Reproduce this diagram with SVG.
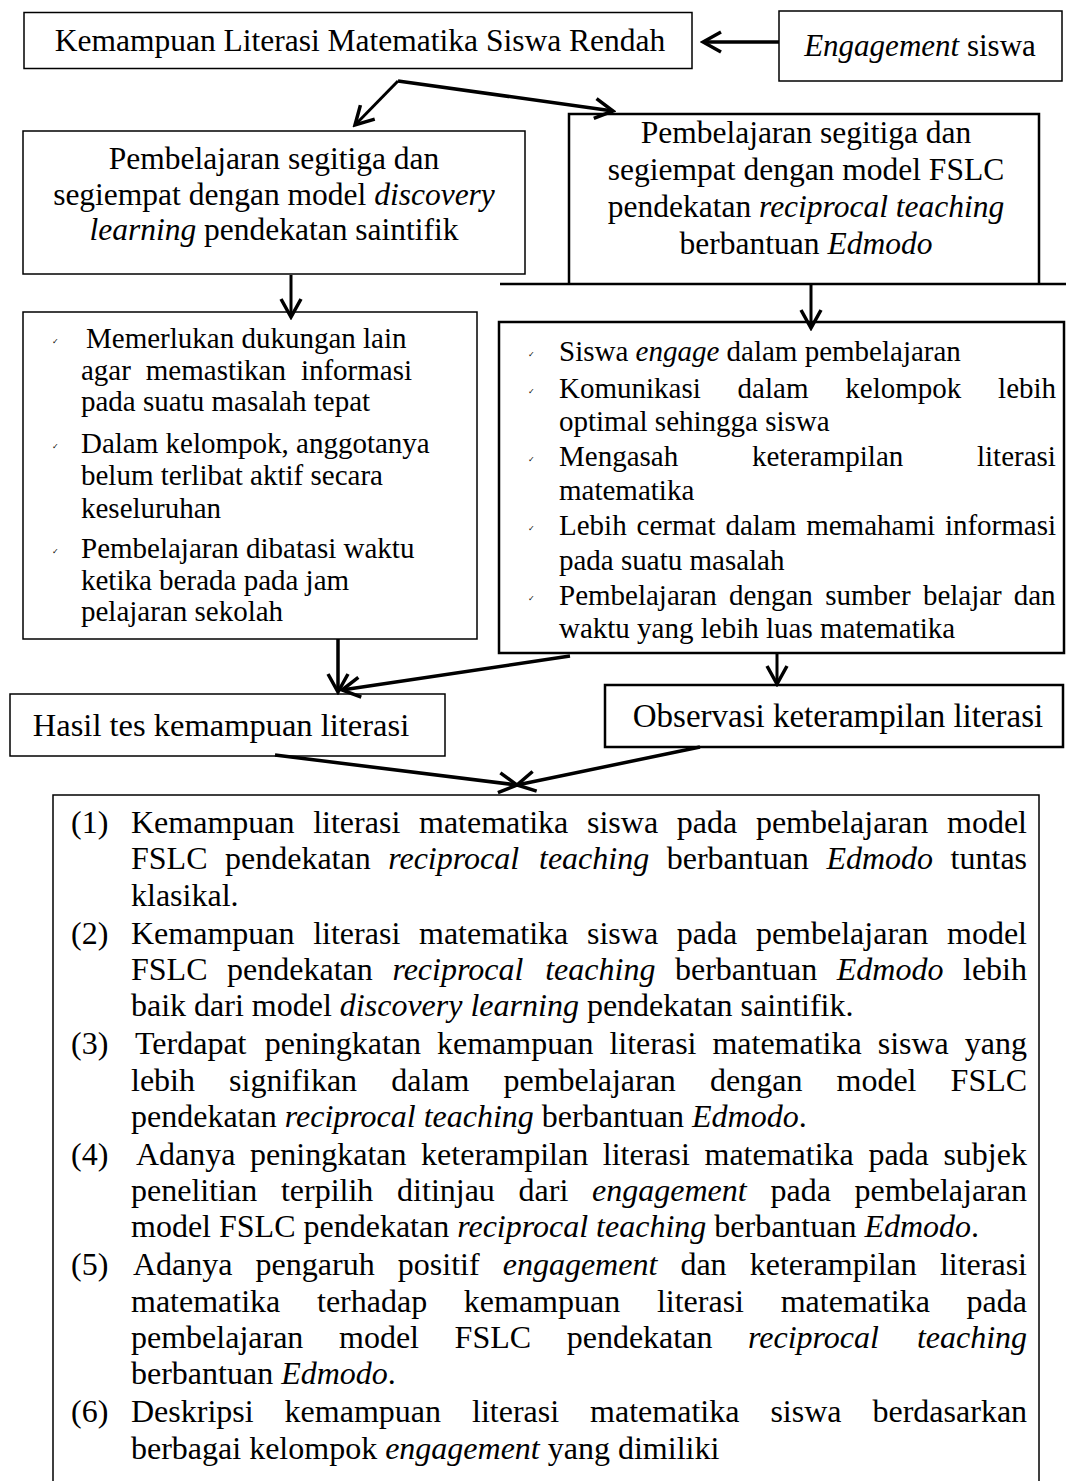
<svg xmlns="http://www.w3.org/2000/svg" width="1066" height="1481" viewBox="0 0 1066 1481">
<style>
text{font-family:"Liberation Serif","Times New Roman",serif;fill:#000}
.i{font-style:italic}
.b{fill:none;stroke:#000;stroke-width:1.5}
.bt{fill:none;stroke:#000;stroke-width:2.5}
.c{text-anchor:middle}
.f32{font-size:31.5px}
.f29{font-size:29px}
.f32b{font-size:32px}
.ck{font-family:"DejaVu Sans",sans-serif;font-size:8px}
.ln{fill:none;stroke:#000;stroke-width:3.5;marker-end:url(#ah)}
.ln3{fill:none;stroke:#000;stroke-width:3;marker-end:url(#ah)}
</style>
<defs>
<marker id="ah" viewBox="0 0 24 24" refX="21" refY="12" markerWidth="24" markerHeight="24" markerUnits="userSpaceOnUse" orient="auto">
<path d="M3,2 L21,12 L3,22" fill="none" stroke="#000" stroke-width="3.5"/>
</marker>
</defs>
<rect width="1066" height="1481" fill="#fff"/>

<g id="connectors">
<line class="ln" x1="779" y1="42" x2="703" y2="42"/>
<line class="ln3" x1="398" y1="81" x2="355" y2="125"/>
<line class="ln" x1="398" y1="81" x2="613" y2="111"/>
<line class="ln3" x1="291" y1="275" x2="291" y2="317"/>
<line class="ln3" x1="811" y1="284" x2="811" y2="328"/>
<line class="ln" x1="338" y1="639" x2="338" y2="692"/>
<line class="ln" x1="570" y1="656" x2="342" y2="690"/>
<line class="ln3" x1="777" y1="653" x2="777" y2="684"/>
<line class="ln" x1="275" y1="755" x2="517" y2="785"/>
<line class="ln" x1="700" y1="747" x2="517" y2="785"/>
</g>

<g id="node-rendah">
<rect class="b" x="24" y="12.5" width="668" height="56"/>
<text class="c f32" x="360" y="51">Kemampuan Literasi Matematika Siswa Rendah</text>
</g>

<g id="node-engagement">
<rect class="b" x="779" y="11" width="283" height="70"/>
<text class="c" style="font-size:31px" x="920" y="56"><tspan class="i">Engagement</tspan> siswa</text>
</g>

<g id="node-discovery">
<rect class="b" x="23" y="131" width="502" height="143"/>
<text class="c f32" x="274" y="169">Pembelajaran segitiga dan</text>
<text class="c f32" x="274" y="204.5">segiempat dengan model <tspan class="i">discovery</tspan></text>
<text class="c f32" x="274" y="240"><tspan class="i">learning</tspan> pendekatan saintifik</text>
</g>

<g id="node-fslc">
<path class="bt" d="M569,284 V114 H1039 V284"/>
<line class="bt" x1="500" y1="284" x2="1066" y2="284"/>
<text class="c f32" x="806" y="143">Pembelajaran segitiga dan</text>
<text class="c f32" x="806" y="180">segiempat dengan model FSLC</text>
<text class="c f32" x="806" y="217">pendekatan <tspan class="i">reciprocal teaching</tspan></text>
<text class="c f32" x="806" y="254">berbantuan <tspan class="i">Edmodo</tspan></text>
</g>

<g id="node-kelemahan">
<rect class="b" x="23" y="312" width="454" height="327"/>
<text class="ck" x="52" y="344">✓</text>
<text class="ck" x="52" y="449">✓</text>
<text class="ck" x="52" y="554">✓</text>
<text class="f29" x="86" y="348">Memerlukan dukungan lain</text>
<text class="f29" y="380"><tspan x="81">agar</tspan> <tspan x="145.8">memastikan</tspan> <tspan x="300.9">informasi</tspan></text>
<text class="f29" x="81" y="411">pada suatu masalah tepat</text>
<text class="f29" x="81" y="453">Dalam kelompok, anggotanya</text>
<text class="f29" x="81" y="485">belum terlibat aktif secara</text>
<text class="f29" x="81" y="518">keseluruhan</text>
<text class="f29" x="81" y="558">Pembelajaran dibatasi waktu</text>
<text class="f29" x="81" y="590">ketika berada pada jam</text>
<text class="f29" x="81" y="621">pelajaran sekolah</text>
</g>

<g id="node-kelebihan">
<rect class="bt" x="499" y="322" width="565" height="331"/>
<text class="ck" x="528" y="357">✓</text>
<text class="ck" x="528" y="394">✓</text>
<text class="ck" x="528" y="462">✓</text>
<text class="ck" x="528" y="531">✓</text>
<text class="ck" x="528" y="601">✓</text>
<text class="f29" x="559" y="361">Siswa <tspan class="i">engage</tspan> dalam pembelajaran</text>
<text class="f29" y="398"><tspan x="559">Komunikasi</tspan> <tspan x="737.6">dalam</tspan> <tspan x="845.3">kelompok</tspan> <tspan x="998.1">lebih</tspan></text>
<text class="f29" x="559" y="431">optimal sehingga siswa</text>
<text class="f29" y="466"><tspan x="559">Mengasah</tspan> <tspan x="751.9">keterampilan</tspan> <tspan x="977">literasi</tspan></text>
<text class="f29" x="559" y="500">matematika</text>
<text class="f29" y="535"><tspan x="559">Lebih</tspan> <tspan x="636.6">cermat</tspan> <tspan x="725.4">dalam</tspan> <tspan x="806.2">memahami</tspan> <tspan x="944.9">informasi</tspan></text>
<text class="f29" x="559" y="570">pada suatu masalah</text>
<text class="f29" y="605"><tspan x="559">Pembelajaran</tspan> <tspan x="729.1">dengan</tspan> <tspan x="825.2">sumber</tspan> <tspan x="922.9">belajar</tspan> <tspan x="1013.7">dan</tspan></text>
<text class="f29" x="559" y="638">waktu yang lebih luas matematika</text>
</g>

<g id="node-hasil">
<rect class="b" x="10" y="694" width="435" height="62"/>
<text class="c" style="font-size:32.5px" x="221" y="736">Hasil tes kemampuan literasi</text>
</g>

<g id="node-observasi">
<rect class="bt" x="605" y="685" width="458" height="62"/>
<text class="c" style="font-size:33px" x="838" y="727">Observasi keterampilan literasi</text>
</g>

<g id="node-hipotesis">
<rect class="b" x="53" y="795" width="986" height="720"/>
<text class="f32b" x="71" y="833">(1)</text>
<text class="f32b" y="833"><tspan x="131">Kemampuan</tspan> <tspan x="313.2">literasi</tspan> <tspan x="419">matematika</tspan> <tspan x="587">siswa</tspan> <tspan x="676.8">pada</tspan> <tspan x="755.9">pembelajaran</tspan> <tspan x="947">model</tspan></text>
<text class="f32b" y="869.3"><tspan x="131">FSLC</tspan> <tspan x="225">pendekatan</tspan> <tspan x="388.2" class="i">reciprocal</tspan> <tspan x="539" class="i">teaching</tspan> <tspan x="666.7">berbantuan</tspan> <tspan x="826.4" class="i">Edmodo</tspan> <tspan x="950.6">tuntas</tspan></text>
<text class="f32b" x="131" y="905.6">klasikal.</text>

<text class="f32b" x="71" y="943.6">(2)</text>
<text class="f32b" y="943.6"><tspan x="131">Kemampuan</tspan> <tspan x="313.2">literasi</tspan> <tspan x="419">matematika</tspan> <tspan x="587">siswa</tspan> <tspan x="676.8">pada</tspan> <tspan x="755.9">pembelajaran</tspan> <tspan x="947">model</tspan></text>
<text class="f32b" y="979.9"><tspan x="131">FSLC</tspan> <tspan x="227.1">pendekatan</tspan> <tspan x="392.4" class="i">reciprocal</tspan> <tspan x="545.2" class="i">teaching</tspan> <tspan x="675">berbantuan</tspan> <tspan x="836.8" class="i">Edmodo</tspan> <tspan x="963">lebih</tspan></text>
<text class="f32b" x="131" y="1016.2">baik dari model <tspan class="i">discovery learning</tspan> pendekatan saintifik.</text>

<text class="f32b" x="71" y="1054.2">(3)</text>
<text class="f32b" y="1054.2"><tspan x="135">Terdapat</tspan> <tspan x="264.7">peningkatan</tspan> <tspan x="437">kemampuan</tspan> <tspan x="609.4">literasi</tspan> <tspan x="712.4">matematika</tspan> <tspan x="877.7">siswa</tspan> <tspan x="964.8">yang</tspan></text>
<text class="f32b" y="1090.5"><tspan x="131">lebih</tspan> <tspan x="229.1">signifikan</tspan> <tspan x="391.2">dalam</tspan> <tspan x="503.5">pembelajaran</tspan> <tspan x="710">dengan</tspan> <tspan x="836.5">model</tspan> <tspan x="950.6">FSLC</tspan></text>
<text class="f32b" x="131" y="1126.8">pendekatan <tspan class="i">reciprocal teaching</tspan> berbantuan <tspan class="i">Edmodo</tspan>.</text>

<text class="f32b" x="71" y="1164.8">(4)</text>
<text class="f32b" y="1164.8"><tspan x="136">Adanya</tspan> <tspan x="250.1">peningkatan</tspan> <tspan x="421.1">keterampilan</tspan> <tspan x="602.8">literasi</tspan> <tspan x="704.5">matematika</tspan> <tspan x="868.4">pada</tspan> <tspan x="943.4">subjek</tspan></text>
<text class="f32b" y="1201.1"><tspan x="131">penelitian</tspan> <tspan x="280.9">terpilih</tspan> <tspan x="397.1">ditinjau</tspan> <tspan x="518.6">dari</tspan> <tspan x="592.1" class="i">engagement</tspan> <tspan x="770.5">pada</tspan> <tspan x="854.6">pembelajaran</tspan></text>
<text class="f32b" x="131" y="1237.4">model FSLC pendekatan <tspan class="i">reciprocal teaching</tspan> berbantuan <tspan class="i">Edmodo</tspan>.</text>

<text class="f32b" x="71" y="1275.4">(5)</text>
<text class="f32b" y="1275.4"><tspan x="133">Adanya</tspan> <tspan x="255.6">pengaruh</tspan> <tspan x="397.8">positif</tspan> <tspan x="502.7" class="i">engagement</tspan> <tspan x="680.4">dan</tspan> <tspan x="749.7">keterampilan</tspan> <tspan x="939.9">literasi</tspan></text>
<text class="f32b" y="1311.7"><tspan x="131">matematika</tspan> <tspan x="317">terhadap</tspan> <tspan x="463.8">kemampuan</tspan> <tspan x="656.9">literasi</tspan> <tspan x="780.7">matematika</tspan> <tspan x="966.6">pada</tspan></text>
<text class="f32b" y="1348"><tspan x="131">pembelajaran</tspan> <tspan x="339">model</tspan> <tspan x="454.6">FSLC</tspan> <tspan x="566.7">pendekatan</tspan> <tspan x="748" class="i">reciprocal</tspan> <tspan x="916.9" class="i">teaching</tspan></text>
<text class="f32b" x="131" y="1384.3">berbantuan <tspan class="i">Edmodo</tspan>.</text>

<text class="f32b" x="71" y="1422.3">(6)</text>
<text class="f32b" y="1422.3"><tspan x="131">Deskripsi</tspan> <tspan x="284.6">kemampuan</tspan> <tspan x="472">literasi</tspan> <tspan x="590.1">matematika</tspan> <tspan x="770.4">siswa</tspan> <tspan x="872.5">berdasarkan</tspan></text>
<text class="f32b" x="131" y="1458.6">berbagai kelompok <tspan class="i">engagement</tspan> yang dimiliki</text>
</g>
</svg>
